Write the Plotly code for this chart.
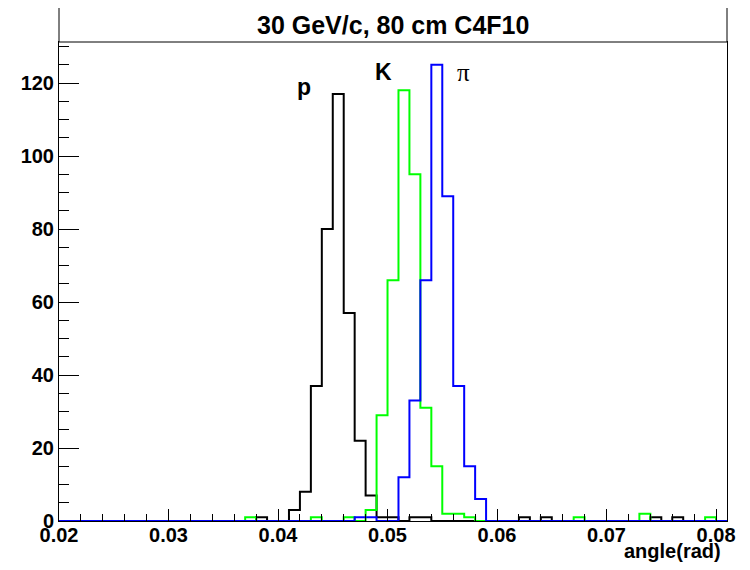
import numpy as np
import plotly.graph_objects as go

# histogram binning: 61 bins of 0.001 rad from 0.020 to 0.081
bin_low = np.round(np.arange(0.020, 0.0805, 0.001), 3)
x_max = 0.081

# filled bins (lower edge, entries); all other bins are empty
p_bins = [0.038, 0.041, 0.042, 0.043, 0.044, 0.045, 0.046, 0.047, 0.048, 0.049,
          0.050, 0.052, 0.053, 0.062, 0.064, 0.074, 0.076]
p_counts = [1, 3, 8, 37, 80, 117, 57, 22, 7, 1, 1, 1, 1, 1, 1, 1, 1]

k_bins = [0.037, 0.043, 0.046, 0.048, 0.049, 0.050, 0.051, 0.052, 0.053, 0.054,
          0.055, 0.056, 0.057, 0.067, 0.073, 0.079]
k_counts = [1, 1, 1, 3, 29, 66, 118, 95, 31, 15, 2, 2, 1, 1, 2, 1]

pi_bins = [0.047, 0.048, 0.051, 0.052, 0.053, 0.054, 0.055, 0.056, 0.057, 0.058]
pi_counts = [1, 1, 12, 33, 66, 125, 89, 37, 15, 6]

y_max = 1.05 * 125  # ROOT-style headroom over the tallest bin


def step_outline(bins, counts):
    """bin edges + contents (last repeated) for an hv step line"""
    filled = dict(zip(bins, counts))
    vals = [filled.get(float(b), 0) for b in bin_low]
    xs = list(bin_low) + [x_max]
    ys = vals + [vals[-1]]
    return xs, ys


fig = go.Figure()

for bins, counts, color in [(p_bins, p_counts, 'black'),
                            (k_bins, k_counts, '#00ff00'),
                            (pi_bins, pi_counts, '#0000ff')]:
    xs, ys = step_outline(bins, counts)
    fig.add_trace(go.Scatter(
        x=xs, y=ys,
        mode='lines',
        line=dict(color=color, width=2, shape='hv'),
        hoverinfo='skip',
    ))

bold = dict(family='Liberation Sans', size=20, color='black', weight='bold')
big_bold = dict(family='Liberation Sans', size=23, color='black', weight='bold')

# particle labels
fig.add_annotation(x=0.0424, y=119, text='p', showarrow=False, font=big_bold)
fig.add_annotation(x=0.0496, y=123, text='K', showarrow=False, font=big_bold)
fig.add_annotation(x=0.0569, y=123, text='π', showarrow=False,
                   font=dict(family='Liberation Serif', size=25, color='black'))

# page body has an 8px margin, so the figure is a bit smaller than the window
W, H = 742, 562
m_l, m_r, m_t, m_b = 51, 23, 34, 49
plot_h = H - m_t - m_b

# title box above the frame
fig.add_shape(type='rect', xref='paper', yref='paper',
              x0=0, x1=1, y0=1, y1=1 + 35 / plot_h,
              line=dict(color='black', width=1), fillcolor='white')
fig.add_annotation(xref='paper', yref='paper', x=0.5, y=1 + 17.5 / plot_h,
                   xanchor='center', yanchor='middle',
                   text='30 GeV/c, 80 cm C4F10', showarrow=False,
                   font=dict(family='Liberation Sans', size=25, color='black', weight='bold'))

# x axis title, ROOT puts it at the right end
fig.add_annotation(xref='paper', yref='paper', x=0.994, y=-30 / plot_h,
                   xanchor='right', yanchor='middle',
                   text='angle(rad)', showarrow=False,
                   font=dict(family='Liberation Sans', size=20, color='black', weight='bold'))

fig.update_layout(
    width=W, height=H,
    margin=dict(l=m_l, r=m_r, t=m_t, b=m_b),
    paper_bgcolor='white',
    plot_bgcolor='white',
    showlegend=False,
    xaxis=dict(
        range=[0.02, x_max],
        tick0=0.02, dtick=0.01,
        tickformat='.2f',
        ticks='inside', ticklen=12, tickcolor='black', tickwidth=1,
        minor=dict(dtick=0.002, ticks='inside', ticklen=7, tickcolor='black'),
        showgrid=False, zeroline=False,
        showline=True, linecolor='black', linewidth=1, mirror=True,
        tickfont=bold, automargin=False, ticklabelstandoff=-4,
    ),
    yaxis=dict(
        range=[0, y_max],
        tick0=0, dtick=20,
        ticks='inside', ticklen=20, tickcolor='black', tickwidth=1,
        minor=dict(dtick=5, ticks='inside', ticklen=10, tickcolor='black'),
        showgrid=False, zeroline=False,
        showline=True, linecolor='black', linewidth=1, mirror=True,
        tickfont=bold, automargin=False,
    ),
)

fig.write_html("out.html")
